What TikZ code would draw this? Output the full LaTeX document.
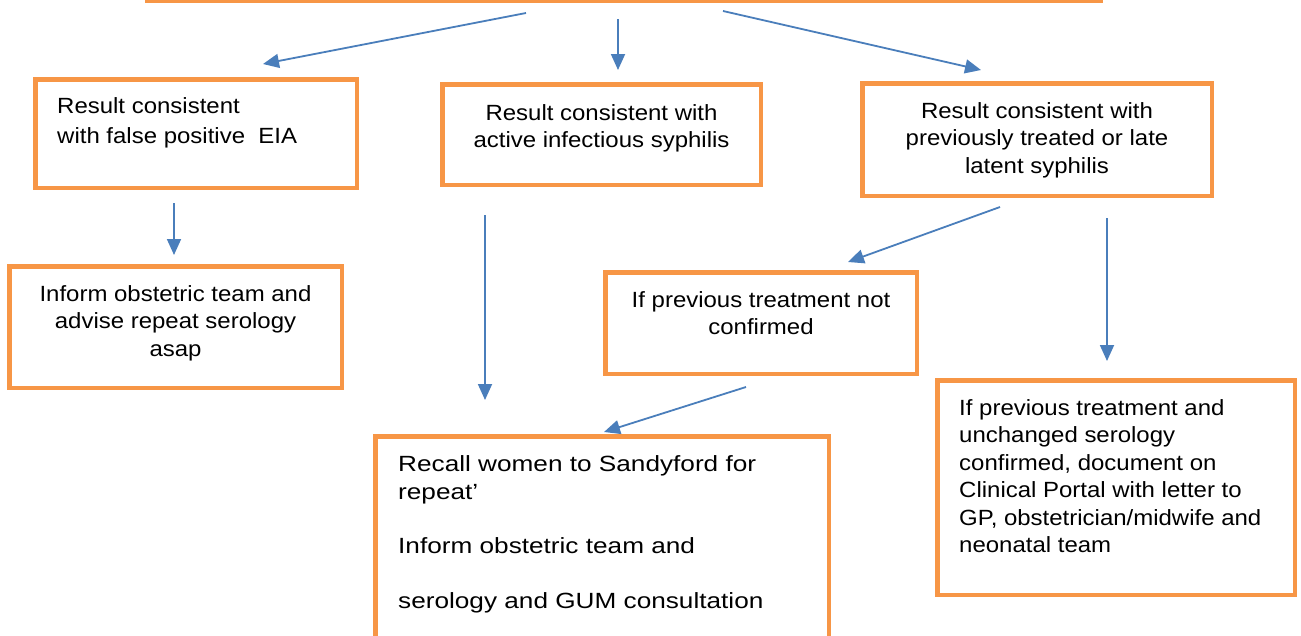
\documentclass[tikz,border=0pt]{standalone}
\usepackage{fontspec}
\setmainfont{Liberation Sans}[FakeStretch=1.09]
\newfontfamily\widefont{Liberation Sans}[FakeStretch=1.19]
\usetikzlibrary{arrows.meta}
\definecolor{boxorange}{HTML}{F79646}
\definecolor{arrowblue}{HTML}{4A7EBB}
\begin{document}
\begin{tikzpicture}[x=1pt,y=-1pt,
  flowbox/.style={draw=boxorange, line width=4.5pt, fill=white, inner sep=0pt, rectangle},
  boxtext/.style={inner sep=0pt, font=\fontsize{22}{27.5}\selectfont},
  flowarrow/.style={draw=arrowblue, line width=1.8pt, -{Triangle[length=16pt,width=14pt]}}]
\useasboundingbox (0,0) rectangle (1301,635);
% boxes
\node[flowbox, minimum width=954pt, minimum height=122pt] (top) at (624,-60) {};
\node[flowbox, minimum width=321.5pt, minimum height=108.5pt] (fp) at (196,133.5) {};
\node[flowbox, minimum width=318.5pt, minimum height=100.5pt] (act) at (601.5,134.5) {};
\node[flowbox, minimum width=349.5pt, minimum height=112.5pt] (prev) at (1037,139.5) {};
\node[flowbox, minimum width=332.5pt, minimum height=121.5pt] (inf) at (175.5,327) {};
\node[flowbox, minimum width=311.5pt, minimum height=101.5pt] (notc) at (761,323) {};
\node[flowbox, minimum width=453.5pt, minimum height=261.5pt] (recall) at (602,567) {};
\node[flowbox, minimum width=357.5pt, minimum height=214.5pt] (conf) at (1116,487.5) {};
% texts
\node[boxtext, anchor=north west, align=left] (tfp) at (57,97)
  {Result consistent\\[2.5pt]with false positive\ \ EIA};
\node[boxtext, anchor=north, align=center] (tact) at (601.5,104)
  {Result consistent with\\active infectious syphilis};
\node[boxtext, anchor=north, align=center] (tprev) at (1037,102)
  {Result consistent with\\previously treated or late\\latent syphilis};
\node[boxtext, anchor=north, align=center] (tinf) at (175.5,285)
  {Inform obstetric team and\\advise repeat serology\\asap};
\node[boxtext, anchor=north, align=center] (tnotc) at (761,291)
  {If previous treatment not\\confirmed};
\node[boxtext, anchor=north west, align=left, font=\fontsize{22}{27.5}\widefont] (trecall) at (398,455.5)
  {Recall women to Sandyford for\\repeat’\\[27pt]Inform obstetric team and\\[27pt]serology and GUM consultation};
\node[boxtext, anchor=north west, align=left] (tconf) at (959,399)
  {If previous treatment and\\unchanged serology\\confirmed, document on\\Clinical Portal with letter to\\GP, obstetrician/midwife and\\neonatal team};
% arrow end points
\coordinate (a1s) at (526,13);   \coordinate (a1e) at (263,64);
\coordinate (a2s) at (618,19);   \coordinate (a2e) at (618,70);
\coordinate (a3s) at (723,11);   \coordinate (a3e) at (981,70);
\coordinate (a4s) at (174,203);  \coordinate (a4e) at (174,255);
\coordinate (a5s) at (485,215);  \coordinate (a5e) at (485,400);
\coordinate (a6s) at (1000,207); \coordinate (a6e) at (848,262);
\coordinate (a7s) at (1107,218); \coordinate (a7e) at (1107,361);
\coordinate (a8s) at (746,387);  \coordinate (a8e) at (604,432);
\draw[flowarrow] (a1s) -- (a1e);
\draw[flowarrow] (a2s) -- (a2e);
\draw[flowarrow] (a3s) -- (a3e);
\draw[flowarrow] (a4s) -- (a4e);
\draw[flowarrow] (a5s) -- (a5e);
\draw[flowarrow] (a6s) -- (a6e);
\draw[flowarrow] (a7s) -- (a7e);
\draw[flowarrow] (a8s) -- (a8e);
\end{tikzpicture}
\end{document}
